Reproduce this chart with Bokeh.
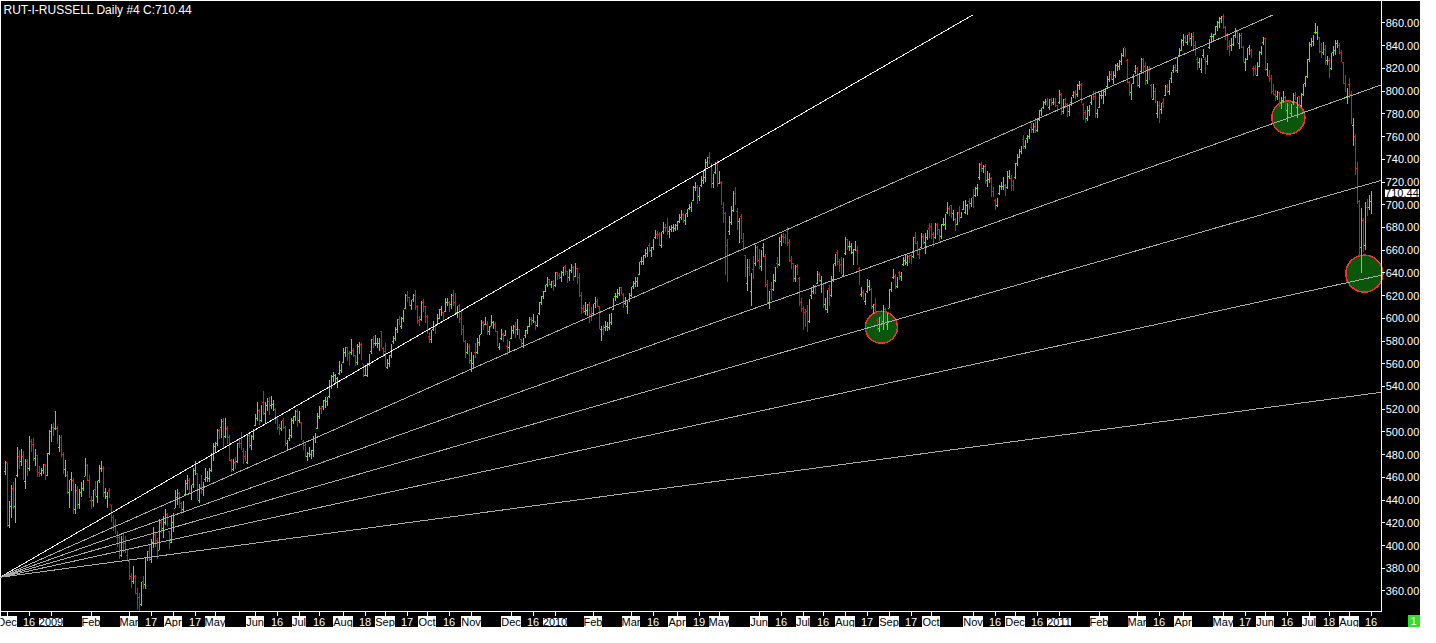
import pandas as pd
from bokeh.plotting import figure
from bokeh.models import Range1d, Label, ColumnDataSource, InlineStyleSheet
from bokeh.core.properties import value
from bokeh.embed import file_html
from bokeh.resources import INLINE

# ---------------- data ----------------
first_day = "2008-11-28"
last_day = "2011-08-16"
holidays = ["2008-12-25", "2009-01-01", "2009-01-19", "2009-02-16", "2009-04-10", "2009-05-25",
            "2009-07-03", "2009-09-07", "2009-11-26", "2009-12-25", "2010-01-01", "2010-01-18",
            "2010-02-15", "2010-04-02", "2010-05-31", "2010-07-05", "2010-09-06", "2010-11-25",
            "2010-12-24", "2011-01-17", "2011-02-21", "2011-04-22", "2011-05-30", "2011-07-04"]

opens = [
    465,
    473,418,434,450,434,462,478,474,478,456,474,468,492,489,477,479,464,463,466,471,462,481,
    500,504,503,503,486,495,480,467,462,447,458,457,432,448,436,447,450,461,470,457,
    440,440,449,443,457,468,468,447,443,448,436,425,418,407,407,391,405,402,391,
    386,373,368,373,358,354,348,368,366,389,395,388,403,410,404,396,420,415,420,427,412,403,
    420,433,442,446,437,432,445,455,457,446,454,466,463,440,451,449,458,460,459,466,480,
    487,490,501,504,509,496,503,495,475,467,473,474,490,490,483,478,473,497,488,496,
    506,512,519,510,526,516,523,527,523,524,520,511,504,503,510,504,490,494,497,510,514,518,
    510,508,492,488,478,481,480,484,494,503,514,521,522,528,527,531,540,549,550,547,551,554,
    561,570,574,569,570,572,567,561,575,577,560,550,550,560,571,581,578,578,578,588,573,
    571,557,560,567,580,582,590,599,593,600,609,620,618,611,617,620,610,598,599,614,610,
    602,584,581,590,593,595,600,608,605,606,614,614,612,620,614,605,611,600,590,580,570,575,
    563,560,570,570,579,586,596,595,595,588,593,596,595,588,574,582,586,585,575,574,
    582,589,593,590,590,581,578,585,589,593,599,598,597,594,604,614,619,624,630,634,630,632,
    629,640,638,636,640,646,641,636,642,645,637,644,636,620,609,606,607,612,603,
    604,613,615,610,590,590,592,593,592,596,608,619,619,622,627,621,613,610,617,
    620,628,631,632,639,650,650,655,657,664,660,662,671,674,674,664,676,680,680,676,678,680,679,
    682,685,689,691,686,692,697,698,704,715,715,707,717,721,724,737,742,734,719,728,737,
    719,720,698,692,664,676,684,695,710,694,685,690,668,655,631,645,624,643,648,662,
    651,646,662,654,630,614,625,625,633,648,647,668,672,671,676,667,651,648,635,646,635,614,
    609,605,606,597,620,624,627,631,639,633,630,612,608,626,620,634,648,658,650,647,638,
    657,669,663,663,658,661,660,644,621,623,615,624,628,625,610,612,598,591,601,597,608,595,
    609,625,636,637,628,640,637,647,651,649,654,655,654,671,666,656,662,672,667,671,679,
    681,674,671,683,678,672,683,683,693,697,699,692,687,683,693,689,696,693,699,703,701,
    706,708,714,724,735,732,734,721,722,723,712,704,699,710,716,716,717,715,725,723,717,
    724,736,742,747,757,751,758,760,768,766,769,765,775,783,786,790,791,786,793,790,790,787,
    790,797,782,793,788,782,790,796,799,797,805,806,788,781,776,783,790,797,795,780,
    786,796,796,800,804,810,815,810,814,823,822,826,831,838,827,808,799,807,817,
    820,805,817,828,822,809,818,805,793,800,780,787,784,790,796,804,800,811,818,821,818,831,836,
    845,847,843,850,846,848,840,828,825,819,831,828,826,838,848,848,850,857,860,864,
    866,856,850,839,840,841,849,853,842,849,838,825,828,838,836,820,820,814,822,834,843,
    846,819,813,811,800,797,795,799,790,792,794,783,787,780,790,796,786,795,787,797,807,813,
    828,841,844,852,852,847,835,834,837,827,827,820,834,836,842,840,834,825,807,795,
    806,797,770,760,732,703,662,686,664,698,698,703,
]
highs = [
    474,
    473,439,453,456,459,487,484,485,483,476,476,496,494,495,485,480,470,468,472,472,481,502,
    507,508,518,505,497,497,482,475,466,458,465,459,454,452,450,456,458,477,472,462,
    444,449,457,457,471,474,470,451,447,451,436,427,423,413,409,408,412,408,397,
    387,376,382,374,363,358,368,373,389,395,401,405,416,412,407,423,423,426,432,429,413,427,
    429,449,450,447,438,439,458,462,459,453,468,474,464,454,462,456,468,466,468,481,490,
    491,503,503,511,512,512,505,497,476,476,478,490,495,500,486,483,498,500,497,502,
    516,526,520,524,536,526,530,531,532,528,521,514,507,510,512,505,493,503,512,514,519,520,
    518,509,493,490,482,487,484,496,499,516,523,523,528,531,531,546,550,553,551,548,562,560,
    574,575,575,571,582,574,568,577,579,578,560,557,561,569,582,584,585,583,583,589,575,
    578,564,568,577,584,592,599,602,601,607,621,624,619,616,621,625,612,602,615,617,611,
    603,588,590,598,595,604,608,611,606,618,618,615,621,625,622,611,613,607,594,581,578,577,
    570,568,578,583,585,598,598,601,598,593,603,598,597,589,578,591,587,590,582,580,
    593,594,597,599,591,582,583,590,593,601,601,604,598,603,614,620,624,629,636,635,633,634,
    641,641,640,642,645,647,642,643,648,646,649,644,640,623,612,614,613,614,610,
    613,619,617,611,593,594,598,597,604,605,618,622,626,628,628,622,619,616,622,
    628,633,636,636,650,654,656,661,663,666,663,670,678,677,676,676,685,683,688,681,682,683,683,
    686,692,695,693,692,696,701,702,716,720,717,716,725,730,740,742,746,737,727,738,739,
    730,721,702,694,670,690,699,712,716,697,688,692,675,656,652,652,640,655,664,664,
    661,660,666,657,634,624,632,639,645,654,672,674,675,674,680,670,655,649,647,648,636,618,
    611,608,612,617,627,629,629,642,641,637,631,618,625,629,637,648,657,660,652,654,653,
    672,670,668,666,661,668,664,645,628,625,622,635,634,627,613,618,600,601,603,612,609,605,
    626,632,643,639,636,642,641,654,657,656,656,657,672,676,668,662,675,674,675,678,684,
    684,676,684,684,679,683,688,692,702,699,700,695,688,694,699,694,703,704,701,706,706,
    714,716,718,737,738,735,736,730,728,724,716,705,706,717,720,724,718,730,731,726,722,
    737,745,749,752,761,757,761,767,772,772,776,776,783,785,791,793,794,793,794,794,794,788,
    801,798,793,794,790,788,795,800,801,806,809,807,790,783,787,788,797,800,800,784,
    798,800,802,803,813,818,818,818,824,825,827,834,838,838,828,809,806,815,823,
    821,815,829,829,826,822,822,806,806,803,791,791,790,794,805,806,810,817,823,824,829,838,846,
    850,849,849,852,851,852,844,830,829,829,837,830,832,846,851,850,857,862,865,866,
    868,857,851,845,847,849,856,854,851,851,840,829,838,841,837,822,823,826,835,840,848,
    847,825,819,814,806,801,800,799,795,800,796,790,792,789,798,799,795,796,798,806,813,828,
    843,847,849,860,857,848,842,843,841,831,829,834,840,845,845,842,836,826,814,803,
    812,800,776,762,738,704,697,688,702,705,709,712,
]
lows = [
    462,
    416,415,424,432,420,460,467,470,458,450,461,466,482,474,470,460,460,461,463,458,461,480,
    491,496,502,489,482,478,463,460,445,433,448,428,428,432,432,443,448,461,457,442,
    432,434,444,437,455,465,443,441,433,442,421,413,410,399,388,390,394,393,387,
    370,363,366,357,343,342,347,362,362,386,386,385,398,399,388,396,411,407,418,417,397,402,
    412,433,436,433,428,429,444,449,445,440,451,462,440,437,445,444,456,456,456,465,474,
    481,488,494,495,486,495,489,474,465,466,467,473,486,484,472,474,472,486,484,493,
    505,510,506,509,515,508,518,515,520,518,507,502,497,501,503,488,484,492,495,507,510,504,
    508,493,484,478,474,478,476,478,490,503,511,516,519,521,523,530,538,544,542,539,550,552,
    561,566,562,558,568,566,558,559,569,563,548,549,548,558,569,574,576,574,571,574,566,
    557,555,557,565,577,580,587,594,591,597,608,614,611,607,614,607,595,593,598,606,596,
    586,578,578,589,586,594,599,602,598,606,611,606,608,611,605,600,596,585,579,565,569,560,
    553,556,565,569,576,586,590,594,585,585,593,591,588,576,572,581,579,584,568,570,
    582,586,583,585,582,575,574,583,586,592,594,596,590,592,603,612,617,623,628,629,627,624,
    628,634,635,632,637,638,631,633,640,633,636,630,619,604,605,603,602,596,598,
    603,609,610,591,580,585,589,589,590,594,607,615,618,620,621,609,612,604,614,
    619,626,628,628,638,647,647,653,654,658,654,660,670,670,664,662,674,676,673,671,676,676,677,
    678,684,687,684,682,689,695,694,703,712,701,703,716,718,720,733,736,715,715,727,716,
    718,700,684,638,632,673,682,694,700,678,666,670,659,636,624,637,611,635,646,650,
    643,642,654,628,614,608,616,624,632,644,646,664,666,665,664,650,643,632,632,638,611,606,
    590,592,588,596,617,621,621,630,632,622,609,607,605,611,619,632,646,647,641,639,636,
    656,660,659,657,647,659,647,629,619,616,612,622,624,608,604,604,590,588,592,590,596,590,
    609,623,635,626,627,634,633,646,647,646,649,648,653,665,656,652,661,665,657,669,671,
    670,663,670,673,668,670,681,678,692,690,688,686,677,682,685,688,695,692,691,696,698,
    697,707,708,722,729,728,718,716,719,707,707,695,698,709,713,713,708,714,723,712,712,
    723,734,741,745,749,749,754,758,763,763,763,764,774,778,784,788,787,783,787,788,786,782,
    789,779,780,785,777,778,787,794,793,795,801,790,775,772,774,778,788,792,776,776,
    785,793,789,796,803,808,810,806,812,818,819,823,830,830,807,796,792,806,815,
    804,803,816,815,805,806,810,794,792,790,776,772,780,785,796,798,797,807,816,817,816,830,835,
    840,842,841,843,840,836,831,819,820,816,829,815,823,837,843,843,849,853,856,860,
    855,845,836,831,835,840,847,842,837,838,826,818,827,832,829,813,814,813,821,832,841,
    818,813,808,798,797,791,792,786,784,790,783,773,780,778,788,792,776,785,786,796,804,812,
    826,839,840,850,845,834,829,832,823,823,812,819,831,832,838,833,826,806,799,789,
    794,771,752,726,701,655,640,658,660,690,695,692,
]
closes = [
    473,
    417,438,451,436,457,481,472,479,460,474,466,493,488,476,479,463,462,466,471,461,481,499,
    505,502,509,490,496,481,467,469,449,455,459,429,453,443,446,449,456,475,459,443,
    439,448,446,456,469,470,446,448,446,443,423,417,412,406,389,406,400,394,389,
    371,364,378,358,355,343,367,367,388,393,389,405,409,402,392,422,413,418,430,420,400,423,
    428,444,449,442,430,437,457,460,447,452,467,471,441,453,447,455,465,461,462,476,487,
    487,502,500,508,490,510,492,481,466,473,469,490,489,487,477,476,497,486,495,502,
    514,522,508,523,520,522,525,522,525,524,509,503,503,507,507,489,491,499,511,513,518,508,
    512,494,488,479,479,482,481,495,497,516,522,520,527,529,528,544,549,552,550,547,553,557,
    573,574,566,562,575,570,561,573,578,567,549,555,560,568,580,576,579,580,582,577,572,
    558,558,567,576,583,590,598,597,600,606,620,616,614,614,619,608,598,596,614,609,604,
    587,580,588,594,592,601,607,608,600,617,617,611,620,614,607,609,598,589,581,566,576,562,
    565,567,566,582,583,598,592,596,586,590,598,596,591,577,575,586,583,587,573,579,
    589,592,584,591,583,578,582,587,591,600,596,600,592,602,613,619,623,628,633,631,631,625,
    640,638,637,641,644,644,634,642,646,638,648,636,621,606,608,609,611,599,602,
    612,617,612,591,591,586,593,594,603,604,617,620,625,626,623,611,617,615,619,
    627,630,633,635,649,651,654,659,662,661,660,669,674,673,668,675,684,677,674,676,680,680,679,
    683,691,693,687,690,695,700,701,716,718,708,715,722,728,737,741,736,717,725,737,717,
    728,703,693,666,653,689,692,711,702,683,686,672,666,637,648,638,639,636,664,656,
    644,660,665,628,614,622,617,638,645,645,670,672,671,670,666,651,650,634,646,641,613,610,
    603,598,594,617,624,628,625,640,635,634,611,616,624,612,635,647,656,650,644,643,651,
    670,662,666,663,658,665,656,630,624,617,619,628,628,611,610,605,594,600,593,610,596,602,
    625,631,641,627,634,636,640,652,651,655,651,653,671,667,660,654,673,666,672,675,677,
    676,665,683,675,673,682,684,690,698,693,692,694,681,690,689,692,698,702,700,702,703,
    703,714,717,735,734,733,722,729,724,710,708,699,702,715,719,724,709,729,726,722,716,
    735,744,747,751,750,756,758,766,764,769,764,775,782,784,790,792,789,792,788,791,787,784,
    796,784,792,787,785,787,792,799,798,806,807,792,779,774,786,786,795,796,778,781,
    797,797,801,802,810,817,814,817,822,824,823,833,837,834,808,798,804,815,819,
    806,812,828,820,809,820,812,795,804,797,789,776,786,789,803,800,809,816,819,818,829,837,843,
    846,844,847,848,846,839,833,822,826,828,836,825,831,844,848,848,856,861,864,865,
    857,850,841,833,840,847,855,844,849,840,828,828,836,838,831,819,816,823,833,839,847,
    819,820,811,798,798,794,797,788,790,796,784,784,783,788,797,793,794,787,796,805,811,827,
    842,845,848,858,853,835,831,836,825,829,818,833,835,842,844,834,827,807,801,797,
    800,772,773,727,714,656,696,659,700,696,708,710.44,
]

tick_dates = ["2008-12-01", "2008-12-16", "2009-01-02", "2009-02-02", "2009-03-02", "2009-03-17",
              "2009-04-01", "2009-04-17", "2009-05-01", "2009-06-01", "2009-06-16", "2009-07-01",
              "2009-07-16", "2009-08-03", "2009-08-18", "2009-09-01", "2009-09-17", "2009-10-01",
              "2009-10-16", "2009-11-02", "2009-12-01", "2009-12-16", "2010-01-04", "2010-02-01",
              "2010-03-01", "2010-03-16", "2010-04-01", "2010-04-19", "2010-05-03", "2010-06-01",
              "2010-06-16", "2010-07-01", "2010-07-16", "2010-08-02", "2010-08-17", "2010-09-01",
              "2010-09-17", "2010-10-01", "2010-11-01", "2010-11-16", "2010-12-01", "2010-12-16",
              "2011-01-03", "2011-02-01", "2011-03-01", "2011-03-16", "2011-04-01", "2011-05-02",
              "2011-05-17", "2011-06-01", "2011-06-16", "2011-07-01", "2011-07-18", "2011-08-01",
              "2011-08-16"]
tick_labels = ["Dec", "16", "2009", "Feb", "Mar", "17", "Apr", "17", "May", "Jun", "16", "Jul",
               "16", "Aug", "18", "Sep", "17", "Oct", "16", "Nov", "Dec", "16", "2010", "Feb",
               "Mar", "16", "Apr", "19", "May", "Jun", "16", "Jul", "16", "Aug", "17", "Sep",
               "17", "Oct", "Nov", "16", "Dec", "16", "2011", "Feb", "Mar", "16", "Apr", "May",
               "17", "Jun", "16", "Jul", "18", "Aug", "16"]
price_ticks = [360, 380, 400, 420, 440, 460, 480, 500, 520, 540, 560, 580, 600, 620, 640, 660,
               680, 700, 720, 740, 760, 780, 800, 820, 840, 860]

# Fibonacci fan: common origin, one far point per line (bar-index / price)
fan_origin_x = -2.5
fan_origin_price = 372.0
fan_end_x = [483.9, 634.0, 695.0, 695.0, 695.0, 695.0]
fan_end_price = [867.1, 867.1, 809.8, 724.9, 640.6, 536.5]

# highlighted spots
circle_x = [438.2, 641.7, 679.7]
circle_price = [592.2, 776.8, 639.4]
circle_size = [32, 33, 37]

title_text = "RUT-I-RUSSELL  Daily #4 C:710.44"
last_close_text = "710.44"
page_text = "1"

# ---------------- layout ----------------
W, H = 1420, 627          # whole canvas
BAR_PX = 2                # pixels per trading day, as in the original
X0, X1 = -2.25, 688.25    # bar index at pane left / right edge
CW = int(round((X1 - X0) * BAR_PX))   # price-pane width (1381)
CH = 611                  # price-pane height
Y0, Y1 = 341.9, 879.8     # price at pane bottom / top edge
ppx = (X1 - X0) / CW
ppy = (Y1 - Y0) / CH
XR = X1 + (W - CW) * ppx
YB = Y0 - (H - CH) * ppy
FONT = "Liberation Sans"
UP, DOWN = "#5cf000", "#f01010"

dates = [d for d in pd.bdate_range(first_day, last_day) if d.strftime("%Y-%m-%d") not in holidays]
n = min(len(dates), len(opens), len(highs), len(lows), len(closes))
date_index = {d.strftime("%Y-%m-%d"): i for i, d in enumerate(dates)}

p = figure(width=W, height=H, x_range=Range1d(X0, XR), y_range=Range1d(YB, Y1),
           x_axis_location=None, y_axis_location=None, output_backend="svg",
           toolbar_location=None, background_fill_color="black", border_fill_color="black",
           outline_line_color=None, min_border=0)
p.grid.visible = False
# pixel-snapped thin lines like the original bar chart; keep repeated spaces in texts
p.stylesheets = [InlineStyleSheet(css=":host { shape-rendering: crispEdges; white-space: pre; }")]

# circles underneath
p.scatter(x=circle_x, y=circle_price, size=circle_size, marker="circle",
          fill_color="#0a560a", line_color="#ff2a2a", line_width=1.5)

xs = list(range(n))
colors = [UP if closes[i] >= opens[i] else DOWN for i in range(n)]
src = ColumnDataSource(dict(x=xs, xl=[x - 0.5 for x in xs], xr=[x + 0.5 for x in xs],
                            o=opens[:n], h=highs[:n], l=lows[:n], c=closes[:n], color=colors))
p.segment(x0="x", y0="l", x1="x", y1="h", color="color", line_width=1, source=src)
p.segment(x0="xl", y0="o", x1="x", y1="o", color="color", line_width=1, source=src)
p.segment(x0="x", y0="c", x1="xr", y1="c", color="color", line_width=1, source=src)

# fan lines stop at the price scale
fx1, fy1 = [], []
for ex, ey in zip(fan_end_x, fan_end_price):
    if ex > X1:
        ey = fan_origin_price + (ey - fan_origin_price) * (X1 - fan_origin_x) / (ex - fan_origin_x)
        ex = X1
    fx1.append(ex)
    fy1.append(ey)
fan_colors = ["#f0f0f0"] + ["#aaaaaa"] * (len(fan_end_x) - 1)
p.segment(x0=[fan_origin_x] * len(fx1), y0=[fan_origin_price] * len(fx1),
          x1=fx1, y1=fy1, color=fan_colors, line_width=1)

# ---- price scale (right) ----
p.segment(x0=[X1], y0=[Y0], x1=[X1], y1=[Y1], color="white", line_width=1)
p.segment(x0=[X1] * len(price_ticks), y0=price_ticks, x1=[X1 + 3 * ppx] * len(price_ticks),
          y1=price_ticks, color="white", line_width=1)
p.text(x=[X1 + 4.2 * ppx] * len(price_ticks), y=price_ticks,
       text=["%.2f" % t for t in price_ticks], text_align="left", text_baseline="middle",
       text_color="white", text_font=value(FONT), text_font_size="11px")

# ---- time scale (bottom) ----
tick_x = [date_index[d] for d in tick_dates if d in date_index]
p.segment(x0=[X0], y0=[Y0], x1=[X1], y1=[Y0], color="white", line_width=1)
p.segment(x0=tick_x, y0=[Y0] * len(tick_x), x1=tick_x, y1=[Y0 - 4 * ppy] * len(tick_x),
          color="white", line_width=1)

lab_y = Y0 - 10.0 * ppy
day_x, day_t = [], []
for d, lab in zip(tick_dates, tick_labels):
    if d not in date_index:
        continue
    if lab.isdigit() and len(lab) <= 2:
        day_x.append(date_index[d])
        day_t.append(lab)
    else:
        p.add_layout(Label(x=date_index[d], y=lab_y, text=lab, text_align="center",
                           text_baseline="middle", text_font=FONT, text_font_size="11px",
                           text_color="black", background_fill_color="white"))
p.text(x=day_x, y=[lab_y] * len(day_x), text=day_t, text_align="center",
       text_baseline="middle", text_color="white", text_font=value(FONT),
       text_font_size="11px")

# last-close marker on the price scale
p.add_layout(Label(x=X1 + 3.6 * ppx, y=closes[n - 1], text=last_close_text, text_align="left",
                   text_baseline="middle", text_font=FONT, text_font_size="11px",
                   text_color="black", background_fill_color="white"))

# page indicator in the bottom-right corner
ind_x = XR - 7 * ppx
ind_y = YB + 6.5 * ppy
p.rect(x=[ind_x], y=[ind_y], width=12, height=12, width_units="screen", height_units="screen",
       fill_color="#2ee02e", line_color=None)
p.text(x=[ind_x], y=[ind_y], text=[page_text], text_align="center", text_baseline="middle",
       text_color="white", text_font=value(FONT), text_font_size="11px")

p.add_layout(Label(x=X0 + 3 * ppx, y=Y1 - 2 * ppy, text=title_text, text_align="left",
                   text_baseline="top", text_font=FONT, text_font_size="12px",
                   text_color="white"))

open("out.html", "w").write(file_html(p, INLINE))
